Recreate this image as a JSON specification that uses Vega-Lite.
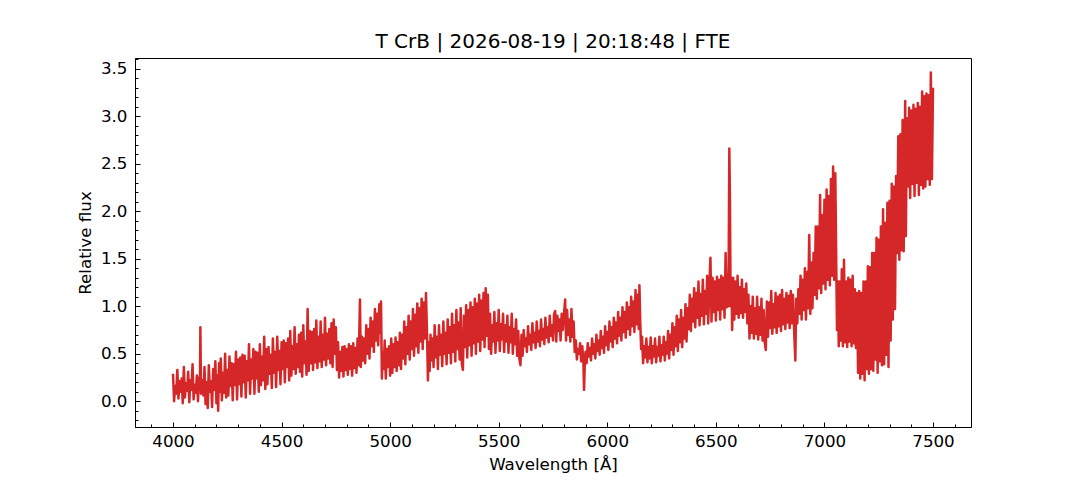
{
  "$schema": "https://vega.github.io/schema/vega-lite/v6.json",
  "width": 836,
  "height": 369,
  "autosize": {"type": "none"},
  "padding": {"left": 135, "top": 58, "right": 109, "bottom": 53},
  "background": "white",
  "title": {
    "text": "T CrB | 2026-08-19 | 20:18:48 | FTE",
    "font": "DejaVu Sans",
    "fontSize": 20,
    "fontWeight": "normal",
    "color": "black",
    "anchor": "middle",
    "frame": "group",
    "baseline": "alphabetic",
    "offset": 9,
    "dy": 19
  },
  "data": {
    "values": [
      {"w":4000,"f":0.29},{"w":4005,"f":0.00},{"w":4010,"f":0.16},{"w":4015,"f":0.08},{"w":4020,"f":0.33},{"w":4025,"f":0.03},
      {"w":4030,"f":0.21},{"w":4035,"f":0.10},{"w":4040,"f":0.24},{"w":4045,"f":-0.02},{"w":4050,"f":0.36},{"w":4055,"f":0.04},
      {"w":4060,"f":0.19},{"w":4065,"f":0.11},{"w":4070,"f":0.31},{"w":4075,"f":-0.01},{"w":4080,"f":0.22},{"w":4085,"f":0.12},
      {"w":4090,"f":0.39},{"w":4095,"f":0.02},{"w":4100,"f":0.17},{"w":4105,"f":0.09},{"w":4110,"f":0.27},{"w":4115,"f":0.00},
      {"w":4120,"f":0.25},{"w":4124,"f":0.14},{"w":4126,"f":0.78},{"w":4129,"f":0.08},{"w":4135,"f":0.22},{"w":4140,"f":0.06},
      {"w":4145,"f":0.36},{"w":4150,"f":-0.03},{"w":4155,"f":0.20},{"w":4160,"f":-0.07},{"w":4165,"f":0.38},{"w":4170,"f":0.10},
      {"w":4175,"f":0.21},{"w":4180,"f":-0.06},{"w":4185,"f":0.34},{"w":4190,"f":0.12},{"w":4195,"f":0.42},{"w":4200,"f":-0.02},
      {"w":4205,"f":0.27},{"w":4208,"f":-0.10},{"w":4212,"f":0.40},{"w":4215,"f":0.10},{"w":4220,"f":0.45},{"w":4225,"f":0.01},
      {"w":4230,"f":0.30},{"w":4235,"f":0.09},{"w":4240,"f":0.50},{"w":4245,"f":0.04},{"w":4250,"f":0.33},{"w":4255,"f":0.06},
      {"w":4260,"f":0.47},{"w":4265,"f":0.16},{"w":4270,"f":0.40},{"w":4275,"f":0.01},{"w":4280,"f":0.39},{"w":4285,"f":0.17},
      {"w":4290,"f":0.52},{"w":4295,"f":0.02},{"w":4300,"f":0.44},{"w":4305,"f":0.18},{"w":4310,"f":0.46},{"w":4315,"f":0.05},
      {"w":4320,"f":0.49},{"w":4325,"f":0.20},{"w":4330,"f":0.48},{"w":4335,"f":0.04},{"w":4340,"f":0.42},{"w":4345,"f":0.22},
      {"w":4350,"f":0.60},{"w":4355,"f":0.08},{"w":4360,"f":0.44},{"w":4365,"f":0.24},{"w":4370,"f":0.55},{"w":4375,"f":0.08},
      {"w":4380,"f":0.52},{"w":4385,"f":0.24},{"w":4390,"f":0.51},{"w":4395,"f":0.10},{"w":4400,"f":0.60},{"w":4405,"f":0.17},
      {"w":4410,"f":0.47},{"w":4415,"f":0.22},{"w":4420,"f":0.68},{"w":4425,"f":0.13},{"w":4430,"f":0.55},{"w":4435,"f":0.18},
      {"w":4440,"f":0.57},{"w":4445,"f":0.29},{"w":4450,"f":0.49},{"w":4455,"f":0.14},{"w":4460,"f":0.66},{"w":4465,"f":0.30},
      {"w":4470,"f":0.52},{"w":4475,"f":0.15},{"w":4480,"f":0.68},{"w":4485,"f":0.33},{"w":4490,"f":0.53},{"w":4495,"f":0.18},
      {"w":4500,"f":0.62},{"w":4505,"f":0.34},{"w":4510,"f":0.64},{"w":4515,"f":0.20},{"w":4520,"f":0.61},{"w":4525,"f":0.36},
      {"w":4530,"f":0.66},{"w":4535,"f":0.22},{"w":4540,"f":0.74},{"w":4545,"f":0.27},{"w":4550,"f":0.58},{"w":4555,"f":0.34},
      {"w":4560,"f":0.78},{"w":4565,"f":0.29},{"w":4570,"f":0.60},{"w":4575,"f":0.36},{"w":4580,"f":0.70},{"w":4585,"f":0.31},
      {"w":4590,"f":0.72},{"w":4595,"f":0.26},{"w":4600,"f":0.80},{"w":4605,"f":0.40},{"w":4610,"f":0.63},{"w":4615,"f":0.28},
      {"w":4620,"f":0.97},{"w":4625,"f":0.32},{"w":4630,"f":0.74},{"w":4635,"f":0.40},{"w":4640,"f":0.73},{"w":4645,"f":0.33},
      {"w":4650,"f":0.76},{"w":4655,"f":0.41},{"w":4660,"f":0.85},{"w":4665,"f":0.35},{"w":4670,"f":0.68},{"w":4675,"f":0.42},
      {"w":4680,"f":0.84},{"w":4685,"f":0.36},{"w":4690,"f":0.70},{"w":4695,"f":0.44},{"w":4700,"f":0.88},{"w":4705,"f":0.38},
      {"w":4710,"f":0.71},{"w":4715,"f":0.45},{"w":4720,"f":0.76},{"w":4725,"f":0.40},{"w":4730,"f":0.82},{"w":4735,"f":0.36},
      {"w":4740,"f":0.86},{"w":4745,"f":0.50},{"w":4750,"f":0.78},{"w":4755,"f":0.33},{"w":4760,"f":0.62},{"w":4765,"f":0.25},
      {"w":4770,"f":0.52},{"w":4775,"f":0.32},{"w":4780,"f":0.57},{"w":4785,"f":0.26},{"w":4790,"f":0.58},{"w":4795,"f":0.33},
      {"w":4800,"f":0.55},{"w":4805,"f":0.28},{"w":4810,"f":0.60},{"w":4815,"f":0.34},{"w":4820,"f":0.58},{"w":4825,"f":0.27},
      {"w":4830,"f":0.61},{"w":4835,"f":0.35},{"w":4840,"f":0.56},{"w":4845,"f":0.30},{"w":4850,"f":0.66},{"w":4855,"f":0.38},
      {"w":4861,"f":1.07},{"w":4865,"f":0.36},{"w":4870,"f":0.68},{"w":4875,"f":0.43},{"w":4880,"f":0.66},{"w":4885,"f":0.40},
      {"w":4890,"f":0.80},{"w":4895,"f":0.50},{"w":4900,"f":0.76},{"w":4905,"f":0.45},{"w":4910,"f":0.88},{"w":4915,"f":0.58},
      {"w":4920,"f":0.84},{"w":4925,"f":0.52},{"w":4930,"f":0.97},{"w":4935,"f":0.64},{"w":4940,"f":0.92},{"w":4945,"f":0.59},
      {"w":4950,"f":1.02},{"w":4955,"f":0.72},{"w":4958,"f":1.05},{"w":4962,"f":0.24},{"w":4965,"f":0.52},{"w":4970,"f":0.34},
      {"w":4975,"f":0.64},{"w":4980,"f":0.24},{"w":4985,"f":0.55},{"w":4990,"f":0.36},{"w":4995,"f":0.58},{"w":5000,"f":0.27},
      {"w":5005,"f":0.66},{"w":5010,"f":0.30},{"w":5015,"f":0.60},{"w":5020,"f":0.36},{"w":5025,"f":0.67},{"w":5030,"f":0.32},
      {"w":5035,"f":0.62},{"w":5040,"f":0.38},{"w":5045,"f":0.72},{"w":5050,"f":0.34},{"w":5055,"f":0.70},{"w":5060,"f":0.45},
      {"w":5065,"f":0.84},{"w":5070,"f":0.39},{"w":5075,"f":0.78},{"w":5080,"f":0.50},{"w":5085,"f":0.90},{"w":5090,"f":0.44},
      {"w":5095,"f":0.84},{"w":5100,"f":0.55},{"w":5105,"f":0.97},{"w":5110,"f":0.48},{"w":5115,"f":0.91},{"w":5120,"f":0.58},
      {"w":5125,"f":1.03},{"w":5130,"f":0.51},{"w":5135,"f":0.98},{"w":5140,"f":0.63},{"w":5145,"f":1.08},{"w":5150,"f":0.55},
      {"w":5155,"f":1.04},{"w":5160,"f":0.66},{"w":5165,"f":1.14},{"w":5170,"f":0.70},{"w":5174,"f":0.22},{"w":5178,"f":0.62},
      {"w":5182,"f":0.32},{"w":5186,"f":0.70},{"w":5190,"f":0.43},{"w":5195,"f":0.66},{"w":5200,"f":0.36},{"w":5205,"f":0.80},
      {"w":5210,"f":0.46},{"w":5215,"f":0.68},{"w":5220,"f":0.34},{"w":5225,"f":0.80},{"w":5230,"f":0.49},{"w":5235,"f":0.70},
      {"w":5240,"f":0.37},{"w":5245,"f":0.84},{"w":5250,"f":0.50},{"w":5255,"f":0.72},{"w":5260,"f":0.39},{"w":5265,"f":0.86},
      {"w":5270,"f":0.51},{"w":5275,"f":0.78},{"w":5280,"f":0.40},{"w":5285,"f":0.92},{"w":5290,"f":0.52},{"w":5295,"f":0.80},
      {"w":5300,"f":0.42},{"w":5305,"f":0.96},{"w":5310,"f":0.55},{"w":5315,"f":0.83},{"w":5320,"f":0.44},{"w":5325,"f":0.98},
      {"w":5330,"f":0.40},{"w":5335,"f":0.33},{"w":5340,"f":0.90},{"w":5345,"f":0.57},{"w":5350,"f":1.01},{"w":5355,"f":0.46},
      {"w":5360,"f":0.96},{"w":5365,"f":0.59},{"w":5370,"f":1.04},{"w":5375,"f":0.48},{"w":5380,"f":0.99},{"w":5385,"f":0.61},
      {"w":5390,"f":1.08},{"w":5395,"f":0.50},{"w":5400,"f":1.03},{"w":5405,"f":0.63},{"w":5410,"f":1.12},{"w":5415,"f":0.53},
      {"w":5420,"f":1.06},{"w":5425,"f":0.65},{"w":5430,"f":1.14},{"w":5435,"f":0.57},{"w":5440,"f":1.19},{"w":5445,"f":0.69},
      {"w":5450,"f":1.12},{"w":5455,"f":0.55},{"w":5460,"f":0.92},{"w":5465,"f":0.50},{"w":5470,"f":0.80},{"w":5475,"f":0.63},
      {"w":5480,"f":0.94},{"w":5485,"f":0.51},{"w":5490,"f":0.82},{"w":5495,"f":0.64},{"w":5500,"f":0.96},{"w":5505,"f":0.53},
      {"w":5510,"f":0.81},{"w":5515,"f":0.65},{"w":5520,"f":0.92},{"w":5525,"f":0.52},{"w":5530,"f":0.80},{"w":5535,"f":0.63},
      {"w":5540,"f":0.90},{"w":5545,"f":0.51},{"w":5550,"f":0.78},{"w":5555,"f":0.62},{"w":5560,"f":0.92},{"w":5565,"f":0.50},
      {"w":5570,"f":0.76},{"w":5575,"f":0.60},{"w":5580,"f":0.86},{"w":5585,"f":0.48},{"w":5590,"f":0.74},{"w":5595,"f":0.45},
      {"w":5600,"f":0.38},{"w":5605,"f":0.70},{"w":5610,"f":0.48},{"w":5615,"f":0.75},{"w":5620,"f":0.58},{"w":5625,"f":0.66},
      {"w":5630,"f":0.52},{"w":5635,"f":0.79},{"w":5640,"f":0.60},{"w":5645,"f":0.70},{"w":5650,"f":0.54},{"w":5655,"f":0.82},
      {"w":5660,"f":0.62},{"w":5665,"f":0.72},{"w":5670,"f":0.56},{"w":5675,"f":0.84},{"w":5680,"f":0.63},{"w":5685,"f":0.74},
      {"w":5690,"f":0.58},{"w":5695,"f":0.86},{"w":5700,"f":0.65},{"w":5705,"f":0.76},{"w":5710,"f":0.60},{"w":5715,"f":0.88},
      {"w":5720,"f":0.67},{"w":5725,"f":0.78},{"w":5730,"f":0.62},{"w":5735,"f":0.90},{"w":5740,"f":0.69},{"w":5745,"f":0.80},
      {"w":5750,"f":0.64},{"w":5755,"f":0.92},{"w":5760,"f":0.95},{"w":5765,"f":0.63},{"w":5770,"f":0.90},{"w":5775,"f":0.74},
      {"w":5780,"f":0.86},{"w":5785,"f":0.64},{"w":5790,"f":0.92},{"w":5795,"f":0.75},{"w":5800,"f":0.90},{"w":5806,"f":1.07},
      {"w":5810,"f":0.64},{"w":5815,"f":0.96},{"w":5820,"f":0.70},{"w":5825,"f":0.86},{"w":5830,"f":0.63},{"w":5835,"f":0.97},
      {"w":5840,"f":0.68},{"w":5845,"f":0.84},{"w":5850,"f":0.52},{"w":5855,"f":0.64},{"w":5860,"f":0.44},{"w":5865,"f":0.55},
      {"w":5870,"f":0.50},{"w":5875,"f":0.61},{"w":5880,"f":0.42},{"w":5885,"f":0.58},{"w":5890,"f":0.40},{"w":5893,"f":0.12},
      {"w":5897,"f":0.45},{"w":5900,"f":0.52},{"w":5905,"f":0.40},{"w":5910,"f":0.61},{"w":5915,"f":0.47},{"w":5920,"f":0.56},
      {"w":5925,"f":0.43},{"w":5930,"f":0.66},{"w":5935,"f":0.50},{"w":5940,"f":0.60},{"w":5945,"f":0.45},{"w":5950,"f":0.70},
      {"w":5955,"f":0.53},{"w":5960,"f":0.64},{"w":5965,"f":0.49},{"w":5970,"f":0.74},{"w":5975,"f":0.56},{"w":5980,"f":0.68},
      {"w":5985,"f":0.51},{"w":5990,"f":0.79},{"w":5995,"f":0.59},{"w":6000,"f":0.73},{"w":6005,"f":0.54},{"w":6010,"f":0.84},
      {"w":6015,"f":0.63},{"w":6020,"f":0.78},{"w":6025,"f":0.57},{"w":6030,"f":0.88},{"w":6035,"f":0.66},{"w":6040,"f":0.83},
      {"w":6045,"f":0.61},{"w":6050,"f":0.94},{"w":6055,"f":0.69},{"w":6060,"f":0.88},{"w":6065,"f":0.64},{"w":6070,"f":0.99},
      {"w":6075,"f":0.73},{"w":6080,"f":0.94},{"w":6085,"f":0.67},{"w":6090,"f":1.04},{"w":6095,"f":0.76},{"w":6100,"f":0.99},
      {"w":6105,"f":0.70},{"w":6110,"f":1.10},{"w":6115,"f":0.79},{"w":6120,"f":1.05},{"w":6125,"f":0.73},{"w":6130,"f":1.17},
      {"w":6135,"f":0.81},{"w":6140,"f":1.12},{"w":6145,"f":0.76},{"w":6148,"f":1.22},{"w":6152,"f":0.82},{"w":6156,"f":0.55},
      {"w":6160,"f":0.68},{"w":6165,"f":0.40},{"w":6170,"f":0.58},{"w":6175,"f":0.46},{"w":6180,"f":0.66},{"w":6185,"f":0.41},
      {"w":6190,"f":0.57},{"w":6195,"f":0.45},{"w":6200,"f":0.67},{"w":6205,"f":0.40},{"w":6210,"f":0.58},{"w":6215,"f":0.47},
      {"w":6220,"f":0.66},{"w":6225,"f":0.41},{"w":6230,"f":0.57},{"w":6235,"f":0.48},{"w":6240,"f":0.68},{"w":6245,"f":0.42},
      {"w":6250,"f":0.59},{"w":6255,"f":0.49},{"w":6260,"f":0.68},{"w":6265,"f":0.43},{"w":6270,"f":0.62},{"w":6275,"f":0.50},
      {"w":6280,"f":0.74},{"w":6285,"f":0.45},{"w":6290,"f":0.70},{"w":6295,"f":0.54},{"w":6300,"f":0.82},{"w":6305,"f":0.49},
      {"w":6310,"f":0.78},{"w":6315,"f":0.58},{"w":6320,"f":0.90},{"w":6325,"f":0.53},{"w":6330,"f":0.86},{"w":6335,"f":0.62},
      {"w":6340,"f":0.96},{"w":6345,"f":0.57},{"w":6350,"f":0.88},{"w":6355,"f":0.66},{"w":6360,"f":1.02},{"w":6365,"f":0.63},
      {"w":6370,"f":0.98},{"w":6375,"f":0.76},{"w":6380,"f":1.12},{"w":6385,"f":0.74},{"w":6390,"f":1.08},{"w":6395,"f":0.84},
      {"w":6400,"f":1.19},{"w":6405,"f":0.78},{"w":6410,"f":1.14},{"w":6415,"f":0.88},{"w":6420,"f":1.26},{"w":6425,"f":0.80},
      {"w":6430,"f":1.13},{"w":6435,"f":0.90},{"w":6440,"f":1.28},{"w":6445,"f":0.81},{"w":6450,"f":1.16},{"w":6455,"f":0.92},
      {"w":6460,"f":1.32},{"w":6465,"f":0.82},{"w":6470,"f":1.21},{"w":6475,"f":1.51},{"w":6480,"f":0.84},{"w":6485,"f":1.30},
      {"w":6490,"f":0.94},{"w":6495,"f":1.26},{"w":6500,"f":0.85},{"w":6505,"f":1.31},{"w":6510,"f":0.96},{"w":6515,"f":1.28},
      {"w":6520,"f":0.86},{"w":6525,"f":1.32},{"w":6530,"f":0.97},{"w":6535,"f":1.30},{"w":6540,"f":0.88},{"w":6545,"f":1.56},
      {"w":6550,"f":0.99},{"w":6555,"f":1.34},{"w":6558,"f":1.00},{"w":6562,"f":2.66},{"w":6565,"f":2.10},{"w":6568,"f":1.00},
      {"w":6572,"f":1.30},{"w":6575,"f":0.75},{"w":6580,"f":1.30},{"w":6585,"f":0.86},{"w":6590,"f":1.26},{"w":6595,"f":0.92},
      {"w":6600,"f":1.32},{"w":6605,"f":0.88},{"w":6610,"f":1.20},{"w":6615,"f":0.93},{"w":6620,"f":1.28},{"w":6625,"f":0.88},
      {"w":6630,"f":1.18},{"w":6635,"f":0.94},{"w":6640,"f":1.24},{"w":6645,"f":0.82},{"w":6650,"f":1.12},{"w":6655,"f":0.66},
      {"w":6660,"f":1.00},{"w":6665,"f":0.72},{"w":6670,"f":1.10},{"w":6675,"f":0.66},{"w":6680,"f":0.98},{"w":6685,"f":0.71},
      {"w":6690,"f":1.10},{"w":6695,"f":0.65},{"w":6700,"f":0.99},{"w":6705,"f":0.70},{"w":6710,"f":1.08},{"w":6715,"f":0.64},
      {"w":6720,"f":0.96},{"w":6725,"f":0.62},{"w":6730,"f":0.54},{"w":6735,"f":1.05},{"w":6740,"f":0.68},{"w":6745,"f":1.04},
      {"w":6750,"f":0.77},{"w":6755,"f":1.16},{"w":6760,"f":0.71},{"w":6765,"f":1.02},{"w":6770,"f":0.78},{"w":6775,"f":1.14},
      {"w":6780,"f":0.72},{"w":6785,"f":1.10},{"w":6790,"f":0.79},{"w":6795,"f":1.12},{"w":6800,"f":0.74},{"w":6805,"f":1.17},
      {"w":6810,"f":0.81},{"w":6815,"f":1.08},{"w":6820,"f":0.76},{"w":6825,"f":1.14},{"w":6830,"f":0.83},{"w":6835,"f":1.11},
      {"w":6840,"f":0.77},{"w":6845,"f":1.16},{"w":6850,"f":0.82},{"w":6855,"f":1.12},{"w":6860,"f":0.78},{"w":6866,"f":0.43},
      {"w":6870,"f":1.08},{"w":6875,"f":0.82},{"w":6880,"f":1.18},{"w":6885,"f":0.92},{"w":6890,"f":1.32},{"w":6895,"f":0.86},
      {"w":6900,"f":1.28},{"w":6905,"f":0.96},{"w":6910,"f":1.40},{"w":6915,"f":0.86},{"w":6920,"f":1.36},{"w":6925,"f":0.98},
      {"w":6930,"f":1.75},{"w":6935,"f":0.92},{"w":6940,"f":1.46},{"w":6945,"f":0.98},{"w":6950,"f":1.56},{"w":6955,"f":1.12},
      {"w":6960,"f":1.84},{"w":6965,"f":1.08},{"w":6970,"f":1.84},{"w":6975,"f":1.19},{"w":6980,"f":2.17},{"w":6985,"f":1.14},
      {"w":6990,"f":1.96},{"w":6995,"f":1.24},{"w":7000,"f":2.12},{"w":7005,"f":1.18},{"w":7010,"f":2.23},{"w":7015,"f":1.28},
      {"w":7020,"f":2.16},{"w":7025,"f":1.22},{"w":7030,"f":2.34},{"w":7035,"f":1.32},{"w":7040,"f":2.47},{"w":7045,"f":1.28},
      {"w":7050,"f":2.40},{"w":7055,"f":1.34},{"w":7058,"f":0.75},{"w":7062,"f":1.26},{"w":7066,"f":0.58},{"w":7070,"f":1.26},
      {"w":7075,"f":0.64},{"w":7080,"f":1.39},{"w":7085,"f":0.58},{"w":7090,"f":1.49},{"w":7095,"f":0.62},{"w":7100,"f":1.26},
      {"w":7105,"f":0.57},{"w":7110,"f":1.30},{"w":7115,"f":0.63},{"w":7120,"f":1.28},{"w":7125,"f":0.58},{"w":7130,"f":1.32},
      {"w":7135,"f":0.61},{"w":7140,"f":1.18},{"w":7145,"f":0.56},{"w":7150,"f":1.14},{"w":7155,"f":0.30},{"w":7160,"f":1.16},
      {"w":7165,"f":0.24},{"w":7170,"f":1.14},{"w":7175,"f":0.29},{"w":7180,"f":1.26},{"w":7185,"f":0.22},{"w":7190,"f":1.26},
      {"w":7195,"f":0.34},{"w":7200,"f":1.42},{"w":7205,"f":0.29},{"w":7210,"f":1.41},{"w":7215,"f":0.34},{"w":7220,"f":1.56},
      {"w":7225,"f":0.32},{"w":7230,"f":1.56},{"w":7235,"f":0.44},{"w":7240,"f":1.72},{"w":7245,"f":0.30},{"w":7250,"f":1.70},
      {"w":7255,"f":0.42},{"w":7260,"f":1.84},{"w":7265,"f":0.38},{"w":7270,"f":2.02},{"w":7275,"f":0.39},{"w":7280,"f":1.88},
      {"w":7285,"f":0.49},{"w":7290,"f":2.09},{"w":7295,"f":0.36},{"w":7300,"f":2.11},{"w":7305,"f":0.64},{"w":7310,"f":2.29},
      {"w":7315,"f":0.86},{"w":7320,"f":2.26},{"w":7325,"f":0.97},{"w":7330,"f":2.37},{"w":7335,"f":1.56},{"w":7340,"f":2.79},
      {"w":7345,"f":1.49},{"w":7350,"f":2.81},{"w":7355,"f":1.59},{"w":7360,"f":2.96},{"w":7365,"f":1.58},{"w":7372,"f":3.16},
      {"w":7375,"f":1.74},{"w":7380,"f":2.98},{"w":7385,"f":2.26},{"w":7390,"f":3.09},{"w":7395,"f":2.14},{"w":7400,"f":3.06},
      {"w":7405,"f":2.29},{"w":7410,"f":3.12},{"w":7415,"f":2.16},{"w":7420,"f":3.08},{"w":7425,"f":2.30},{"w":7430,"f":3.14},
      {"w":7435,"f":2.17},{"w":7440,"f":3.10},{"w":7445,"f":2.28},{"w":7450,"f":3.26},{"w":7455,"f":2.24},{"w":7460,"f":3.21},
      {"w":7465,"f":2.26},{"w":7470,"f":3.24},{"w":7475,"f":2.34},{"w":7480,"f":3.22},{"w":7485,"f":2.28},{"w":7490,"f":3.46},
      {"w":7495,"f":2.34},{"w":7500,"f":3.30}
    ]
  },
  "resolve": {"axis": {"x": "independent", "y": "independent"}},
  "layer": [
    {
      "mark": {"type": "line", "color": "#d62728", "strokeWidth": 2.5, "strokeJoin": "round"},
      "encoding": {
        "x": {
          "field": "w",
          "type": "quantitative",
          "scale": {"domain": [3825, 7675], "nice": false, "zero": false},
          "axis": {
            "orient": "bottom",
            "title": "Wavelength [Å]",
            "values": [4000, 4500, 5000, 5500, 6000, 6500, 7000, 7500],
            "format": "d",
            "ticks": false,
            "tickSize": 0,
            "labelPadding": 6,
            "titlePadding": 7
          }
        },
        "y": {
          "field": "f",
          "type": "quantitative",
          "scale": {"domain": [-0.271, 3.613], "nice": false, "zero": false},
          "axis": {
            "orient": "left",
            "title": "Relative flux",
            "values": [0, 0.5, 1, 1.5, 2, 2.5, 3, 3.5],
            "format": ".1f",
            "ticks": false,
            "tickSize": 0,
            "labelPadding": 8,
            "titlePadding": 6
          }
        }
      }
    },
    {
      "mark": {"type": "line", "opacity": 0},
      "encoding": {
        "x": {
          "field": "w",
          "type": "quantitative",
          "axis": {
            "orient": "bottom",
            "title": null,
            "labels": false,
            "domain": false,
            "offset": -5,
            "tickSize": 5,
            "values": [4000, 4500, 5000, 5500, 6000, 6500, 7000, 7500]
          }
        },
        "y": {
          "field": "f",
          "type": "quantitative",
          "axis": {
            "orient": "left",
            "title": null,
            "labels": false,
            "domain": false,
            "offset": -5,
            "tickSize": 5,
            "values": [0, 0.5, 1, 1.5, 2, 2.5, 3, 3.5]
          }
        }
      }
    },
    {
      "mark": {"type": "line", "opacity": 0},
      "encoding": {
        "x": {
          "field": "w",
          "type": "quantitative",
          "axis": {
            "orient": "bottom",
            "title": null,
            "labels": false,
            "domain": false,
            "offset": -3,
            "tickSize": 3,
            "values": [3900, 4100, 4200, 4300, 4400, 4600, 4700, 4800, 4900, 5100, 5200, 5300, 5400, 5600, 5700, 5800, 5900, 6100, 6200, 6300, 6400, 6600, 6700, 6800, 6900, 7100, 7200, 7300, 7400, 7600]
          }
        },
        "y": {
          "field": "f",
          "type": "quantitative",
          "axis": {
            "orient": "left",
            "title": null,
            "labels": false,
            "domain": false,
            "offset": -3,
            "tickSize": 3,
            "values": [-0.2, -0.1, 0.1, 0.2, 0.3, 0.4, 0.6, 0.7, 0.8, 0.9, 1.1, 1.2, 1.3, 1.4, 1.6, 1.7, 1.8, 1.9, 2.1, 2.2, 2.3, 2.4, 2.6, 2.7, 2.8, 2.9, 3.1, 3.2, 3.3, 3.4, 3.6]
          }
        }
      }
    }
  ],
  "config": {
    "view": {"stroke": "black", "strokeWidth": 1},
    "axis": {
      "grid": false,
      "domainColor": "black",
      "domainWidth": 1,
      "tickColor": "black",
      "tickWidth": 1,
      "labelFont": "DejaVu Sans",
      "labelFontSize": 16.7,
      "labelColor": "black",
      "titleFont": "DejaVu Sans",
      "titleFontSize": 16.7,
      "titleFontWeight": "normal",
      "titleColor": "black"
    }
  }
}
